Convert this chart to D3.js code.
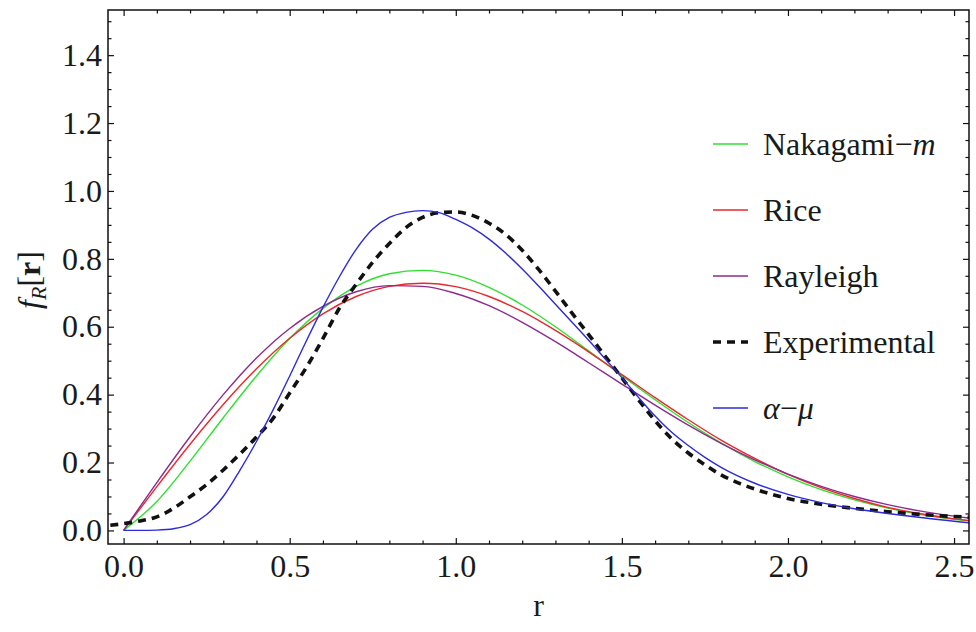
<!DOCTYPE html>
<html><head><meta charset="utf-8">
<script src="https://cdn.jsdelivr.net/npm/d3@7"></script>
<style>
body{margin:0;background:#fff}
svg{display:block}
text{font-family:"Liberation Serif","Times New Roman",serif;fill:#1a1a1a}
</style>
</head><body>
<svg id="chart" width="976" height="632"></svg>
<script>
// ---------- data ----------
const xTickLabels = ["0.0","0.5","1.0","1.5","2.0","2.5"];
const yTickLabels = ["0.0","0.2","0.4","0.6","0.8","1.0","1.2","1.4"];
const seriesNames = ["Nakagami-m","Rice","Rayleigh","Experimental","α-μ"];

const rTheory  = [0,0.1,0.2,0.3,0.4,0.5,0.6,0.7,0.8,0.9,1.0,1.1,1.2,1.3,1.4,1.5,1.6,1.7,1.8,1.9,2.0,2.1,2.2,2.3,2.4,2.5,2.6];
const nakagami = [0,0.085,0.204,0.332,0.455,0.565,0.654,0.719,0.756,0.766,0.752,0.716,0.664,0.600,0.529,0.456,0.385,0.318,0.257,0.203,0.158,0.120,0.090,0.066,0.047,0.033,0.023];
const rice     = [0,0.129,0.254,0.371,0.476,0.566,0.638,0.689,0.719,0.728,0.718,0.689,0.645,0.589,0.526,0.459,0.391,0.326,0.265,0.212,0.165,0.126,0.094,0.068,0.049,0.034,0.024];
const rayleigh = [0,0.141,0.276,0.400,0.508,0.595,0.660,0.703,0.721,0.719,0.698,0.662,0.613,0.556,0.494,0.431,0.369,0.310,0.256,0.208,0.166,0.130,0.100,0.076,0.057,0.042,0.030];

const rExp = [-0.04,0,0.05,0.1,0.15,0.2,0.25,0.3,0.35,0.4,0.45,0.5,0.55,0.6,0.65,0.7,0.75,0.8,0.85,0.9,0.95,1.0,1.05,1.1,1.15,1.2,1.25,1.3,1.35,1.4,1.45,1.5,1.55,1.6,1.65,1.7,1.75,1.8,1.85,1.9,2.0,2.1,2.2,2.3,2.4,2.5,2.6];
const experimental = [0.015,0.02,0.028,0.04,0.065,0.099,0.135,0.178,0.225,0.275,0.33,0.405,0.48,0.565,0.655,0.725,0.79,0.845,0.892,0.922,0.936,0.938,0.928,0.905,0.872,0.825,0.768,0.705,0.64,0.577,0.513,0.449,0.385,0.323,0.27,0.228,0.193,0.163,0.14,0.122,0.094,0.077,0.065,0.055,0.047,0.041,0.036];

const rAlpha = [0,0.05,0.1,0.15,0.2,0.25,0.3,0.35,0.4,0.45,0.5,0.55,0.6,0.65,0.7,0.75,0.8,0.85,0.9,0.95,1.0,1.05,1.1,1.15,1.2,1.25,1.3,1.35,1.4,1.45,1.5,1.55,1.6,1.65,1.7,1.75,1.8,1.9,2.0,2.1,2.2,2.3,2.4,2.5,2.6];
const alphaMu = [0,0.0,0.001,0.005,0.017,0.047,0.10,0.177,0.262,0.355,0.455,0.558,0.657,0.748,0.828,0.888,0.922,0.937,0.942,0.936,0.916,0.891,0.858,0.817,0.77,0.719,0.666,0.613,0.56,0.505,0.45,0.392,0.337,0.289,0.25,0.215,0.185,0.139,0.106,0.082,0.064,0.05,0.038,0.027,0.018];

// ---------- layout ----------
const frame = {left:108, right:969, top:10, bottom:544};
const svg = d3.select("#chart");

const x = d3.scaleLinear().domain([-0.047, 2.545]).range([frame.left, frame.right]);
const y = d3.scaleLinear().domain([-0.04, 1.533]).range([frame.bottom, frame.top]);

const xMajor = xTickLabels.map(Number);
const yMajor = yTickLabels.map(Number);
const xMinor = d3.range(0, 26).map(i => i/10).filter(v => !xMajor.some(m => Math.abs(m-v) < 1e-9));
const yMinor = d3.range(0, 31).map(i => i/20).filter(v => !yMajor.some(m => Math.abs(m-v) < 1e-9));

const MAJ = 6, MIN = 3.5;

// clip
svg.append("defs").append("clipPath").attr("id","clip")
  .append("rect").attr("x",frame.left).attr("y",frame.top)
  .attr("width",frame.right-frame.left).attr("height",frame.bottom-frame.top);

// ---------- curves ----------
const colors = {
  nakagami:"#2ee02e", rice:"#e8282c", rayleigh:"#8e2a8e", experimental:"#111111", alpha:"#2b2bdc"
};
const line = d3.line().x(d => x(d[0])).y(d => y(d[1])).curve(d3.curveMonotoneX);
const plot = svg.append("g").attr("clip-path","url(#clip)");

const series = [
  {key:"nakagami", r:rTheory, v:nakagami, w:1.4, dash:null},
  {key:"rice", r:rTheory, v:rice, w:1.4, dash:null},
  {key:"rayleigh", r:rTheory, v:rayleigh, w:1.4, dash:null},
  {key:"experimental", r:rExp, v:experimental, w:3.6, dash:"8,6"},
  {key:"alpha", r:rAlpha, v:alphaMu, w:1.4, dash:null}
];
series.forEach(s => {
  plot.append("path")
    .datum(s.r.map((r,i) => [r, s.v[i]]))
    .attr("fill","none")
    .attr("stroke", colors[s.key])
    .attr("stroke-width", s.w)
    .attr("stroke-dasharray", s.dash)
    .attr("d", line);
});

// ---------- frame + axes ----------
function styleAxis(g){
  g.attr("font-family",null).attr("font-size",null);
  g.select(".domain").remove();
  g.selectAll(".tick line").attr("stroke","#111").attr("stroke-width",1.2);
  g.selectAll(".tick text").attr("font-size",32).attr("fill","#1a1a1a");
}
// bottom
svg.append("g").attr("transform",`translate(0,${frame.bottom})`)
  .call(d3.axisBottom(x).tickValues(xMajor).tickSize(-MAJ).tickPadding(10)
    .tickFormat((d,i) => xTickLabels[i])).call(styleAxis);
svg.append("g").attr("transform",`translate(0,${frame.bottom})`)
  .call(d3.axisBottom(x).tickValues(xMinor).tickSize(-MIN).tickFormat("")).call(styleAxis);
// top
svg.append("g").attr("transform",`translate(0,${frame.top})`)
  .call(d3.axisTop(x).tickValues(xMajor).tickSize(-MAJ).tickFormat("")).call(styleAxis);
svg.append("g").attr("transform",`translate(0,${frame.top})`)
  .call(d3.axisTop(x).tickValues(xMinor).tickSize(-MIN).tickFormat("")).call(styleAxis);
// left
svg.append("g").attr("transform",`translate(${frame.left},0)`)
  .call(d3.axisLeft(y).tickValues(yMajor).tickSize(-MAJ).tickPadding(6)
    .tickFormat((d,i) => yTickLabels[i])).call(styleAxis);
svg.append("g").attr("transform",`translate(${frame.left},0)`)
  .call(d3.axisLeft(y).tickValues(yMinor).tickSize(-MIN).tickFormat("")).call(styleAxis);
// right
svg.append("g").attr("transform",`translate(${frame.right},0)`)
  .call(d3.axisRight(y).tickValues(yMajor).tickSize(-MAJ).tickFormat("")).call(styleAxis);
svg.append("g").attr("transform",`translate(${frame.right},0)`)
  .call(d3.axisRight(y).tickValues(yMinor).tickSize(-MIN).tickFormat("")).call(styleAxis);

svg.append("rect").attr("x",frame.left).attr("y",frame.top)
  .attr("width",frame.right-frame.left).attr("height",frame.bottom-frame.top)
  .attr("fill","none").attr("stroke","#111").attr("stroke-width",1.5);

// axis labels
svg.append("text").attr("x",(frame.left+frame.right)/2).attr("y",616)
  .attr("text-anchor","middle").attr("font-size",32).text("r");

const yl = svg.append("text").attr("transform","translate(40,280) rotate(-90)")
  .attr("text-anchor","middle").attr("font-size",32);
yl.append("tspan").attr("font-style","italic").text("f");
yl.append("tspan").attr("font-style","italic").attr("font-size",22).attr("dy",6).text("R");
yl.append("tspan").attr("dy",-6).text("[");
yl.append("tspan").attr("font-weight","bold").text("r");
yl.append("tspan").text("]");

// ---------- legend ----------
const legendY0 = 144, legendDY = 66;
const legend = svg.append("g");
series.forEach((s,i) => {
  const ly = legendY0 + i*legendDY;
  legend.append("line").attr("x1",713).attr("x2",748).attr("y1",ly).attr("y2",ly)
    .attr("stroke",colors[s.key]).attr("stroke-width", s.key==="experimental"?3.6:1.4)
    .attr("stroke-dasharray", s.key==="experimental"?"8,6":null);
  const t = legend.append("text").attr("x",763).attr("y",ly).attr("dy","0.35em").attr("font-size",32);
  const name = seriesNames[i];
  if (name === "Nakagami-m") {
    t.append("tspan").text("Nakagami\u2212");
    t.append("tspan").attr("font-style","italic").text("m");
  } else if (name === "α-μ") {
    t.append("tspan").attr("font-style","italic").text("α");
    t.append("tspan").text("\u2212");
    t.append("tspan").attr("font-style","italic").text("μ");
  } else {
    t.text(name);
  }
});
</script>
</body></html>
